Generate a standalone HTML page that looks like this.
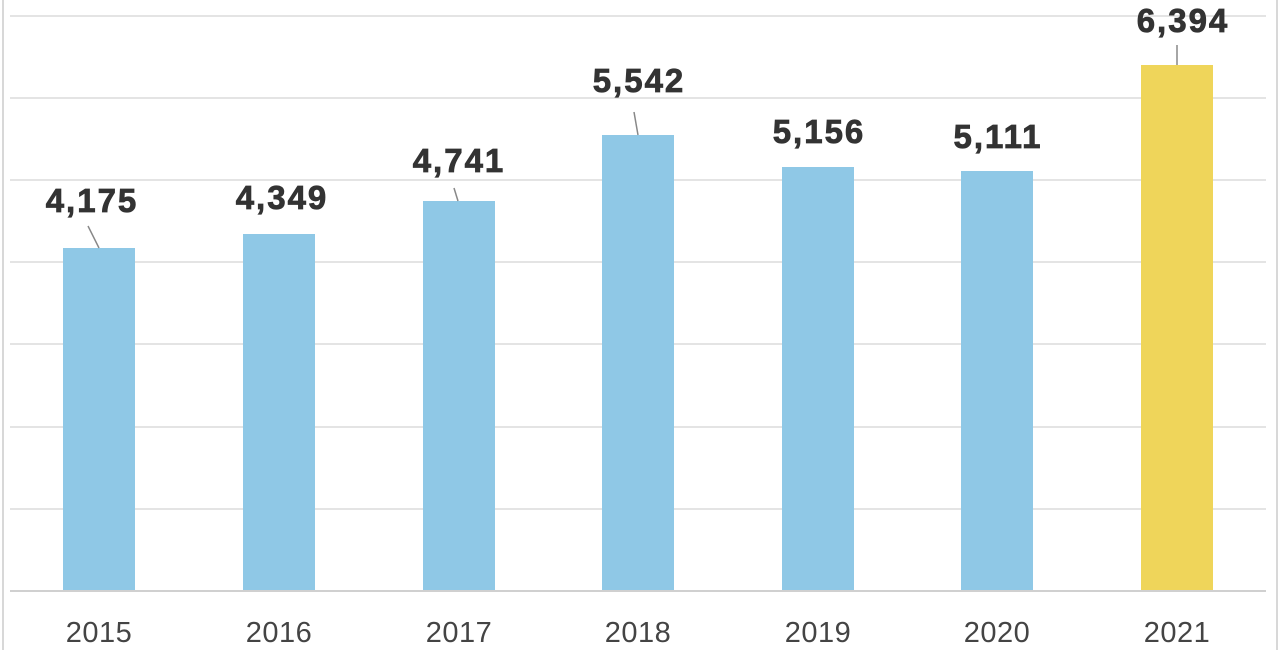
<!DOCTYPE html>
<html><head><style>body{margin:0;background:#fff}svg{display:block}</style></head><body>
<svg width="1280" height="650" xmlns="http://www.w3.org/2000/svg" font-family="'Liberation Sans',sans-serif">
<rect width="1280" height="650" fill="#fff"/>
<line x1="3" y1="0" x2="3" y2="650" stroke="#d8d8d8" stroke-width="2"/>
<line x1="1277" y1="0" x2="1277" y2="650" stroke="#d8d8d8" stroke-width="2"/>
<g stroke="#dcdcdc" stroke-width="1.5">
<line x1="10" x2="1266" y1="16" y2="16"/><line x1="10" x2="1266" y1="98" y2="98"/>
<line x1="10" x2="1266" y1="180" y2="180"/><line x1="10" x2="1266" y1="262" y2="262"/>
<line x1="10" x2="1266" y1="344" y2="344"/><line x1="10" x2="1266" y1="427" y2="427"/>
<line x1="10" x2="1266" y1="509" y2="509"/></g>
<g fill="#8fc8e6">
<rect x="63" y="248" width="72" height="343"/>
<rect x="243" y="234" width="72" height="357"/>
<rect x="423" y="201" width="72" height="390"/>
<rect x="602" y="135" width="72" height="456"/>
<rect x="782" y="167" width="72" height="424"/>
<rect x="961" y="171" width="72" height="420"/>
</g>
<rect x="1141" y="65" width="72" height="526" fill="#efd55a"/>
<line x1="10" x2="1266" y1="591" y2="591" stroke="#d0d0d0" stroke-width="2"/>
<g stroke="#888" stroke-width="1.5">
<line x1="88" y1="226" x2="99" y2="248"/>
<line x1="454" y1="188" x2="458" y2="201"/>
<line x1="634" y1="112" x2="638" y2="135"/>
<line x1="1177" y1="45" x2="1177" y2="65"/>
</g>
<g font-size="33" font-weight="bold" fill="#333" text-anchor="middle" letter-spacing="2" stroke="#333" stroke-width="0.8">
<text x="92" y="212">4,175</text>
<text x="282" y="209">4,349</text>
<text x="459" y="172">4,741</text>
<text x="639" y="92">5,542</text>
<text x="819" y="143">5,156</text>
<text x="998" y="148">5,111</text>
<text x="1183" y="32">6,394</text>
</g>
<g font-size="29" fill="#444" text-anchor="middle" letter-spacing="0.5">
<text x="99" y="642">2015</text>
<text x="279" y="642">2016</text>
<text x="459" y="642">2017</text>
<text x="638" y="642">2018</text>
<text x="818" y="642">2019</text>
<text x="997" y="642">2020</text>
<text x="1177" y="642">2021</text>
</g>
</svg>
</body></html>
